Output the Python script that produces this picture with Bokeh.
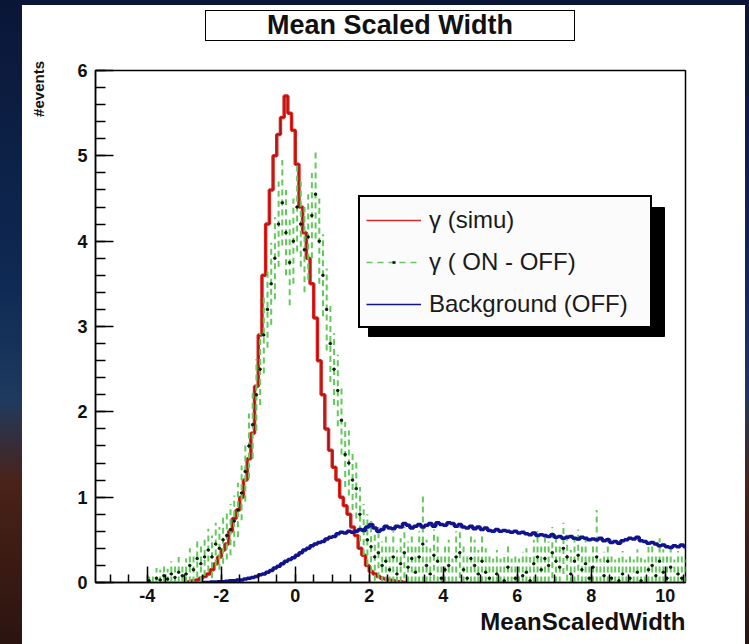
from bokeh.plotting import figure
from bokeh.models import (Legend, LegendItem, SingleIntervalTicker, Range1d, Spacer,
                          PrintfTickFormatter, Title, Div)
from bokeh.layouts import row, column
from bokeh.embed import file_html
from bokeh.resources import INLINE

# ---------------- data ----------------
BIN_WIDTH = 0.1

# gamma (simu) : bins starting at -3.0
red_start = -3.0
red_values = [
    0.00, 0.01, 0.02, 0.03, 0.05, 0.07, 0.10, 0.15, 0.22, 0.30,
    0.38, 0.45, 0.60, 0.75, 0.85, 1.00, 1.20, 1.45, 1.75, 2.30,
    2.90, 3.60, 4.20, 4.60, 5.00, 5.25, 5.45, 5.70, 5.50, 5.30,
    4.90, 4.40, 4.10, 3.80, 3.50, 3.10, 2.60, 2.20, 1.80, 1.55,
    1.35, 1.20, 1.00, 0.90, 0.80, 0.65, 0.55, 0.40, 0.32, 0.20,
    0.13, 0.10, 0.07, 0.05, 0.04, 0.03, 0.02, 0.01, 0.01, 0.00,
]

# gamma (ON - OFF) : bins starting at -4.0
green_start = -4.0
green_values = [
    0.02, 0.00, 0.05, 0.03, 0.08, 0.04, 0.10, 0.06, 0.12, 0.08,
    0.10, 0.20, 0.15, 0.28, 0.22, 0.30, 0.38, 0.30, 0.45, 0.40,
    0.50, 0.55, 0.62, 0.72, 0.85, 1.05, 1.30, 1.60, 1.85, 2.20,
    2.50, 2.90, 3.20, 3.50, 3.80, 4.20, 4.45, 4.10, 3.75, 4.00,
    4.40, 4.20, 3.90, 4.05, 4.30, 4.55, 4.00, 3.60, 3.20, 2.80,
    2.50, 2.25, 1.90, 1.50, 1.40, 1.20, 1.10, 0.80, 0.62, 0.50,
    0.42, 0.30, 0.35, 0.20, 0.25, 0.15, 0.30, 0.10, 0.22, 0.35,
    0.18, 0.28, 0.12, 0.30, 0.45, 0.20, 0.10, 0.32, 0.25, 0.05,
    0.15, 0.20, 0.00, 0.30, 0.35, 0.15, 0.05, 0.28, 0.20, 0.10,
    0.25, 0.12, 0.05, 0.00, 0.10, 0.00, 0.02, 0.18, 0.00, 0.05,
    0.00, 0.08, 0.12, 0.02, 0.22, 0.30, 0.15, 0.28, 0.20, 0.35,
    0.25, 0.18, 0.40, 0.30, 0.10, 0.25, 0.32, 0.15, 0.22, 0.05,
    0.18, 0.30, 0.00, 0.08, 0.25, 0.05, 0.00, 0.02, 0.10, 0.00,
    0.05, 0.00, 0.12, 0.02, 0.00, 0.15, 0.20, 0.08, 0.25, 0.12,
    0.05, 0.18, 0.00, 0.10, 0.05, 0.00,
]
green_errors = [
    0.10, 0.10, 0.12, 0.12, 0.15, 0.12, 0.15, 0.15, 0.18, 0.15,
    0.18, 0.20, 0.20, 0.22, 0.22, 0.22, 0.25, 0.25, 0.25, 0.25,
    0.28, 0.28, 0.30, 0.30, 0.32, 0.32, 0.35, 0.38, 0.40, 0.42,
    0.42, 0.45, 0.45, 0.48, 0.48, 0.50, 0.50, 0.50, 0.50, 0.50,
    0.52, 0.50, 0.50, 0.50, 0.50, 0.52, 0.50, 0.48, 0.48, 0.45,
    0.42, 0.42, 0.40, 0.38, 0.38, 0.35, 0.35, 0.32, 0.30, 0.30,
    0.30, 0.28, 0.30, 0.28, 0.30, 0.28, 0.30, 0.28, 0.30, 0.30,
    0.30, 0.30, 0.30, 0.30, 0.60, 0.30, 0.30, 0.30, 0.30, 0.28,
    0.30, 0.30, 0.28, 0.30, 0.30, 0.30, 0.28, 0.30, 0.30, 0.28,
    0.30, 0.28, 0.28, 0.28, 0.28, 0.28, 0.28, 0.28, 0.28, 0.28,
    0.28, 0.28, 0.28, 0.28, 0.28, 0.30, 0.28, 0.30, 0.28, 0.30,
    0.30, 0.28, 0.30, 0.28, 0.28, 0.28, 0.30, 0.28, 0.28, 0.28,
    0.28, 0.55, 0.28, 0.28, 0.28, 0.28, 0.27, 0.27, 0.27, 0.27,
    0.27, 0.27, 0.27, 0.27, 0.27, 0.27, 0.27, 0.27, 0.27, 0.27,
    0.27, 0.27, 0.27, 0.27, 0.27, 0.27,
]

# Background (OFF) : bins starting at -2.5
blue_start = -2.5
blue_values = [
    0.000, 0.000, 0.005, 0.005, 0.010, 0.010, 0.015, 0.020, 0.020, 0.030,
    0.030, 0.040, 0.050, 0.060, 0.070, 0.090, 0.100, 0.120, 0.140, 0.170,
    0.190, 0.220, 0.250, 0.270, 0.290, 0.320, 0.350, 0.380, 0.400, 0.430,
    0.450, 0.470, 0.480, 0.510, 0.530, 0.540, 0.570, 0.590, 0.580, 0.600,
    0.590, 0.600, 0.620, 0.610, 0.650, 0.680, 0.640, 0.600, 0.620, 0.660,
    0.640, 0.630, 0.660, 0.650, 0.690, 0.670, 0.640, 0.660, 0.680, 0.650,
    0.670, 0.690, 0.660, 0.700, 0.680, 0.670, 0.700, 0.690, 0.660, 0.680,
    0.650, 0.640, 0.660, 0.630, 0.650, 0.620, 0.640, 0.610, 0.600, 0.620,
    0.600, 0.610, 0.600, 0.590, 0.600, 0.580, 0.590, 0.570, 0.560, 0.580,
    0.550, 0.560, 0.550, 0.540, 0.560, 0.530, 0.540, 0.520, 0.530, 0.540,
    0.520, 0.510, 0.530, 0.520, 0.500, 0.510, 0.500, 0.520, 0.490, 0.500,
    0.470, 0.480, 0.460, 0.490, 0.500, 0.520, 0.510, 0.530, 0.490, 0.480,
    0.460, 0.470, 0.450, 0.430, 0.440, 0.420, 0.410, 0.430, 0.420, 0.440,
    0.420,
]

series_labels = ["\u03b3 (simu)", "\u03b3 ( ON - OFF)", "Background (OFF)"]
title_text = "Mean Scaled Width"
x_title = "MeanScaledWidth"
y_title = "#events"

# ---------------- layout constants (page pixels) ----------------
X0, X1 = -5.4, 10.55
Y0, Y1 = 0.0, 6.0
PAGE_W, PAGE_H = 749, 644
CANVAS_LEFT, CANVAS_TOP, CANVAS_RIGHT = 22, 5, 745
TITLE_H = 50          # strip holding the boxed title
YLAB_W = 30           # strip holding the vertical axis title
FRAME_LEFT, FRAME_TOP, FRAME_RIGHT, FRAME_BOTTOM = 95, 70, 685, 582
FIG_LEFT = CANVAS_LEFT + YLAB_W
FIG_TOP = CANVAS_TOP + TITLE_H
W = CANVAS_RIGHT - FIG_LEFT
H = PAGE_H - FIG_TOP
ML, MT = FRAME_LEFT - FIG_LEFT, FRAME_TOP - FIG_TOP
MR, MB = CANVAS_RIGHT - FRAME_RIGHT, PAGE_H - FRAME_BOTTOM
FW, FH = FRAME_RIGHT - FRAME_LEFT, FRAME_BOTTOM - FRAME_TOP
FONT = "Liberation Sans"


def fx(px):
    return X0 + (px - FRAME_LEFT) / FW * (X1 - X0)


def fy(py):
    return Y1 - (py - FRAME_TOP) / FH * (Y1 - Y0)


def step_xy(start, vals):
    xs = [start + i * BIN_WIDTH for i in range(len(vals) + 1)]
    ys = list(vals) + [vals[-1]]
    return xs, ys


p = figure(width=W, height=H, output_backend="svg", toolbar_location=None,
           title_location=None,
           x_range=Range1d(X0, X1), y_range=Range1d(Y0, Y1),
           min_border_left=ML, min_border_right=MR, min_border_top=MT, min_border_bottom=MB)
p.margin = 0
p.background_fill_color = "white"
p.border_fill_color = "white"
p.outline_line_color = "black"
p.outline_line_width = 1.5
p.xgrid.visible = False
p.ygrid.visible = False

# x axis title at the end of the axis (ROOT style)
p.add_layout(Title(text=x_title, align="right", vertical_align="top", standoff=6,
                   text_font=FONT, text_font_style="bold", text_font_size="24px",
                   text_color="#111111"), "below")

for ax in (p.xaxis[0], p.yaxis[0]):
    ax.axis_line_color = "black"
    ax.axis_line_width = 1.5
    ax.major_tick_line_color = "black"
    ax.minor_tick_line_color = "black"
    ax.major_tick_line_width = 1.5
    ax.minor_tick_line_width = 1.5
    ax.major_tick_out = 0
    ax.minor_tick_out = 0
    ax.major_label_text_font = FONT
    ax.major_label_text_font_style = "bold"
    ax.major_label_text_font_size = "18px"
    ax.major_label_text_color = "#111111"
    ax.formatter = PrintfTickFormatter(format="%d")

p.xaxis.ticker = SingleIntervalTicker(interval=2, num_minor_ticks=4)
p.yaxis.ticker = SingleIntervalTicker(interval=1, num_minor_ticks=5)
p.xaxis.major_tick_in = 16
p.xaxis.minor_tick_in = 8
p.yaxis.major_tick_in = 18
p.yaxis.minor_tick_in = 10
p.xaxis.major_label_standoff = 6
p.yaxis.major_label_standoff = 8

# ---------------- histograms ----------------
rx, ry = step_xy(red_start, red_values)
p.step(rx, ry, mode="after", line_color="#e0231d", line_width=3.5)
p.step(rx, ry, mode="after", line_color="#9c1414", line_width=1)

g_centers = [green_start + (i + 0.5) * BIN_WIDTH for i in range(len(green_values))]
g_lo = [max(v - e, 0.0) for v, e in zip(green_values, green_errors)]
g_hi = [v + e for v, e in zip(green_values, green_errors)]
g_left = [green_start + i * BIN_WIDTH for i in range(len(green_values))]
g_right = [x + BIN_WIDTH for x in g_left]
p.segment(x0=g_centers, y0=g_lo, x1=g_centers, y1=g_hi,
          line_color="#62c95a", line_width=2, line_dash="6 4")
p.segment(x0=g_left, y0=green_values, x1=g_right, y1=green_values,
          line_color="#62c95a", line_width=2, line_dash="3 2")
dots_x = [c for c, v in zip(g_centers, green_values) if v > 0]
dots_y = [v for v in green_values if v > 0]
p.scatter(dots_x, dots_y, size=2.5, color="black", alpha=0.8)

bx, by = step_xy(blue_start, blue_values)
p.step(bx, by, mode="after", line_color="#12148f", line_width=3.5)

# ---------------- legend ----------------
shadow_l, shadow_r = fx(368), fx(664)
shadow_t, shadow_b = fy(207), fy(336)
p.quad(left=[shadow_l], right=[shadow_r], top=[shadow_t], bottom=[shadow_b],
       fill_color="black", line_color="black")

OFF = [X0 - 100, X0 - 99]
leg_red = p.line(OFF, [-5, -5], line_color="#d42a2a", line_width=1.5)
leg_green = p.line(OFF, [-5, -5], line_color="#62c95a", line_width=1.5, line_dash="6 5")
leg_green_dot = p.line(OFF, [-5, -5], line_color="black", line_width=2.5, line_dash="0 26 3 60")
leg_blue = p.line(OFF, [-5, -5], line_color="#12148f", line_width=1.5)

legend = Legend(items=[
    LegendItem(label=series_labels[0], renderers=[leg_red]),
    LegendItem(label=series_labels[1], renderers=[leg_green, leg_green_dot]),
    LegendItem(label=series_labels[2], renderers=[leg_blue]),
], location=(263, 254))
legend.label_text_font = FONT
legend.label_text_font_size = "24px"
legend.label_text_color = "#1a1a1a"
legend.glyph_width = 55
legend.label_standoff = 8
legend.label_height = 33
legend.spacing = 9
legend.padding = 6
legend.margin = 0
legend.label_width = 215
legend.border_line_color = "black"
legend.border_line_alpha = 1.0
legend.border_line_width = 2
legend.background_fill_color = "#fbfbfb"
legend.background_fill_alpha = 1.0
p.add_layout(legend, "center")

# ---------------- title strip and vertical axis title strip ----------------
title_div = Div(
    text=('<div style="margin-left:%dpx;margin-top:5px;width:370px;height:31px;'
          'box-sizing:border-box;border:1.5px solid black;background:white;'
          "font-family:'Liberation Sans';font-weight:bold;font-size:27px;line-height:28px;"
          'text-align:center;color:#111111;">%s</div>') % (205 - CANVAS_LEFT, title_text),
    width=CANVAS_RIGHT - CANVAS_LEFT, height=TITLE_H, margin=0,
    styles={"background-color": "white"})

ylab_div = Div(
    text=('<div style="display:inline-block;writing-mode:vertical-rl;transform:rotate(180deg);'
          "margin-left:8px;margin-top:%dpx;font-family:'Liberation Sans';font-weight:bold;"
          'font-size:15px;line-height:17px;color:#111111;">%s</div>') % (62 - FIG_TOP - 1, y_title),
    width=YLAB_W, height=H, margin=0,
    styles={"background-color": "white"})

bg = "linear-gradient(180deg, #0a1636 0%, #0f2a55 45%, #1f3a5e 62%, #4a2218 75%, #2a1410 100%)"
canvas = column(title_div,
                row(ylab_div, p, spacing=0, margin=0,
                    styles={"background-color": "white"}),
                spacing=0, margin=0,
                styles={"background-color": "white"})
page = row(Spacer(width=CANVAS_LEFT, height=PAGE_H, margin=0),
           column(Spacer(width=CANVAS_RIGHT - CANVAS_LEFT, height=CANVAS_TOP, margin=0),
                  canvas, spacing=0, margin=0),
           Spacer(width=PAGE_W - CANVAS_RIGHT, height=PAGE_H, margin=0),
           spacing=0, margin=0,
           styles={"background": bg})

open("out.html", "w").write(file_html(page, INLINE))
